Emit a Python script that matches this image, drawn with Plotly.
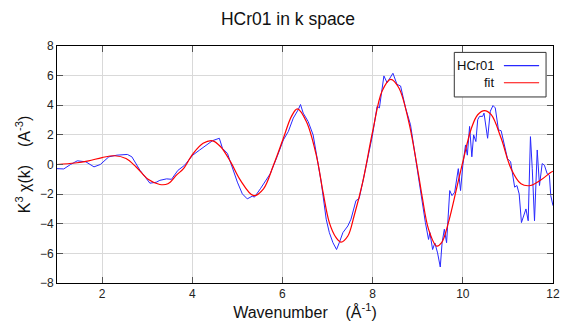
import plotly.graph_objects as go

# Measured data (HCr01)
k_data = [1.0, 1.15, 1.3, 1.45, 1.64, 1.82, 1.96, 2.15, 2.33, 2.56, 2.66, 2.84, 3.06, 3.2, 3.28, 3.43, 3.54,
          3.68, 3.83, 4.01, 4.16, 4.3, 4.45, 4.6, 4.67, 4.78, 4.89, 5.0, 5.11, 5.22, 5.33, 5.38, 5.51, 5.62,
          5.73, 5.88, 6.02, 6.13, 6.24, 6.35, 6.4, 6.46, 6.57, 6.68, 6.75, 6.86, 6.97, 7.04, 7.12, 7.2, 7.26,
          7.34, 7.45, 7.52, 7.63, 7.7, 7.78, 7.89, 7.99, 8.1, 8.15, 8.25, 8.32, 8.45, 8.54, 8.62, 8.73, 8.84,
          8.93, 9.02, 9.09, 9.17, 9.24, 9.27, 9.33, 9.38, 9.44, 9.5, 9.54, 9.59, 9.64, 9.68, 9.71, 9.76, 9.82,
          9.9, 9.95, 10.0, 10.06, 10.1, 10.15, 10.2, 10.24, 10.29, 10.33, 10.37, 10.44, 10.47, 10.55, 10.61,
          10.67, 10.72, 10.79, 10.85, 10.9, 10.99, 11.06, 11.15, 11.2, 11.25, 11.3, 11.35, 11.4, 11.45, 11.5,
          11.54, 11.59, 11.65, 11.7, 11.76, 11.81, 11.87, 11.92, 11.95, 12.0]
chi_data = [-0.28, -0.3, 0.0, 0.25, 0.18, -0.16, 0.0, 0.52, 0.63, 0.68, 0.52, -0.39, -1.26, -1.2, -1.07, -0.97, -1.0,
            -0.4, -0.05, 0.63, 0.97, 1.27, 1.61, 1.77, 1.09, 0.75, -0.28, -1.19, -1.98, -2.32, -2.14, -2.2, -1.64, -1.14,
            -0.62, 0.52, 1.66, 2.23, 3.13, 3.7, 4.05, 3.47, 2.9, 2.0, 0.86, -1.19, -3.69, -4.6, -5.28, -5.74, -5.28,
            -4.6, -4.15, -3.69, -2.44, -2.3, -1.19, 0.4, 1.88, 3.93, 3.82, 5.98, 5.52, 6.16, 5.41, 5.3, 3.82, 2.68,
            0.86, -0.96, -2.6, -3.92, -5.06, -4.6, -5.74, -5.3, -5.97, -6.92, -5.28, -4.37, -5.28, -3.46, -1.76, -2.1, -1.87,
            -0.28, -1.76, -0.05, 1.32, 0.63, 2.57, 0.52, 2.0, 1.55, 3.02, 3.25, 3.25, 3.47, 1.77, 3.6,
            3.98, 3.82, 2.34, 2.28, 1.55, 0.4, 0.18, -1.53, -1.42, -1.99, -3.92, -3.46, -3.0, -3.8, 1.88,
            -0.28, -3.8, 0.98, -1.42, 0.06, -0.05, -0.62, -0.73, -2.1, -2.78]

# Fit
k_fit = [1.0, 1.4, 1.7, 2.0, 2.28, 2.53, 2.75, 3.02, 3.28, 3.46, 3.66, 3.8, 4.01, 4.24, 4.45, 4.63, 4.85, 5.07,
         5.36, 5.58, 5.8, 6.02, 6.2, 6.33, 6.53, 6.75, 6.9, 7.04, 7.19, 7.3, 7.45, 7.59, 7.78, 8.0, 8.21, 8.4,
         8.58, 8.8, 9.02, 9.1, 9.24, 9.42, 9.53, 9.68, 9.86, 10.0, 10.19, 10.33, 10.48, 10.63, 10.85, 11.07,
         11.29, 11.5, 11.72, 11.94, 12.0]
chi_fit = [0.0, 0.1, 0.25, 0.47, 0.59, 0.4, -0.15, -1.0, -1.35, -1.3, -0.68, -0.3, 0.7, 1.43, 1.6, 1.2, 0.18, -1.07,
           -2.1, -1.64, -0.05, 1.77, 3.25, 3.75, 2.9, 0.63, -1.87, -3.92, -4.94, -5.24, -4.83, -3.46, -1.19, 2.23, 4.96, 5.75,
           5.18, 2.9, -0.73, -2.2, -4.37, -5.51, -5.28, -3.92, -1.64, 0.18, 2.45, 3.36, 3.64, 3.36, 1.77, -0.28,
           -1.3, -1.42, -1.07, -0.56, -0.45]

x_ticks = [2, 4, 6, 8, 10, 12]
y_ticks = [-8, -6, -4, -2, 0, 2, 4, 6, 8]

FONT = "Liberation Sans, Arial, sans-serif"
BLUE = "rgb(40,40,255)"
RED = "rgb(255,0,0)"

fig = go.Figure()
fig.add_trace(go.Scatter(x=k_data, y=chi_data, mode="lines", name="HCr01",
                         line=dict(color=BLUE, width=1), showlegend=False))
fig.add_trace(go.Scatter(x=k_fit, y=chi_fit, mode="lines", name="fit",
                         line=dict(color=RED, width=1.2, shape="spline", smoothing=1.0), showlegend=False))

axis_common = dict(showline=True, linecolor="black", linewidth=1, mirror="ticks",
                   ticks="inside", ticklen=6, tickcolor="#555555", tickwidth=1,
                   showgrid=True, gridcolor="#d9d9d9", gridwidth=1, zeroline=False,
                   ticklabeloverflow="allow",
                   tickfont=dict(family=FONT, size=12, color="#222222"))

# The page body adds an 8px offset, so the figure is sized 8px smaller.
fig.update_layout(
    width=560, height=319,
    margin=dict(l=49, r=8, t=38, b=39),
    paper_bgcolor="white", plot_bgcolor="white",
    title=dict(text="HCr01 in k space", x=0.5, xanchor="center", y=0.966, yanchor="middle",
               font=dict(family=FONT, size=17.5, color="#111111")),
    xaxis=dict(range=[1, 12], tickvals=x_ticks,
               title=dict(text="Wavenumber    (Å<sup>-1</sup>)", standoff=6,
                          font=dict(family=FONT, size=16, color="#111111")),
               **axis_common),
    yaxis=dict(range=[-8, 8], tickvals=y_ticks,
               title=dict(text="K<sup>3</sup> χ(k)    (A<sup>-3</sup>)", standoff=5,
                          font=dict(family=FONT, size=16, color="#111111")),
               **axis_common),
)

# Manual legend (text on the left, line sample on the right)
fig.add_shape(type="rect", xref="paper", yref="paper", x0=0.801, x1=0.986, y0=0.785, y1=0.973,
              line=dict(color="#333333", width=1), fillcolor="white", layer="above")
legend_items = [("HCr01", BLUE, 0.917), ("fit", RED, 0.845)]
for label, col, yy in legend_items:
    fig.add_annotation(xref="paper", yref="paper", x=0.887, y=yy, text=label, showarrow=False,
                       xanchor="right", yanchor="middle", font=dict(family=FONT, size=13, color="#111111"))
    fig.add_shape(type="line", xref="paper", yref="paper", x0=0.901, x1=0.972, y0=yy, y1=yy,
                  line=dict(color=col, width=1.2), layer="above")

fig.write_html("out.html")
